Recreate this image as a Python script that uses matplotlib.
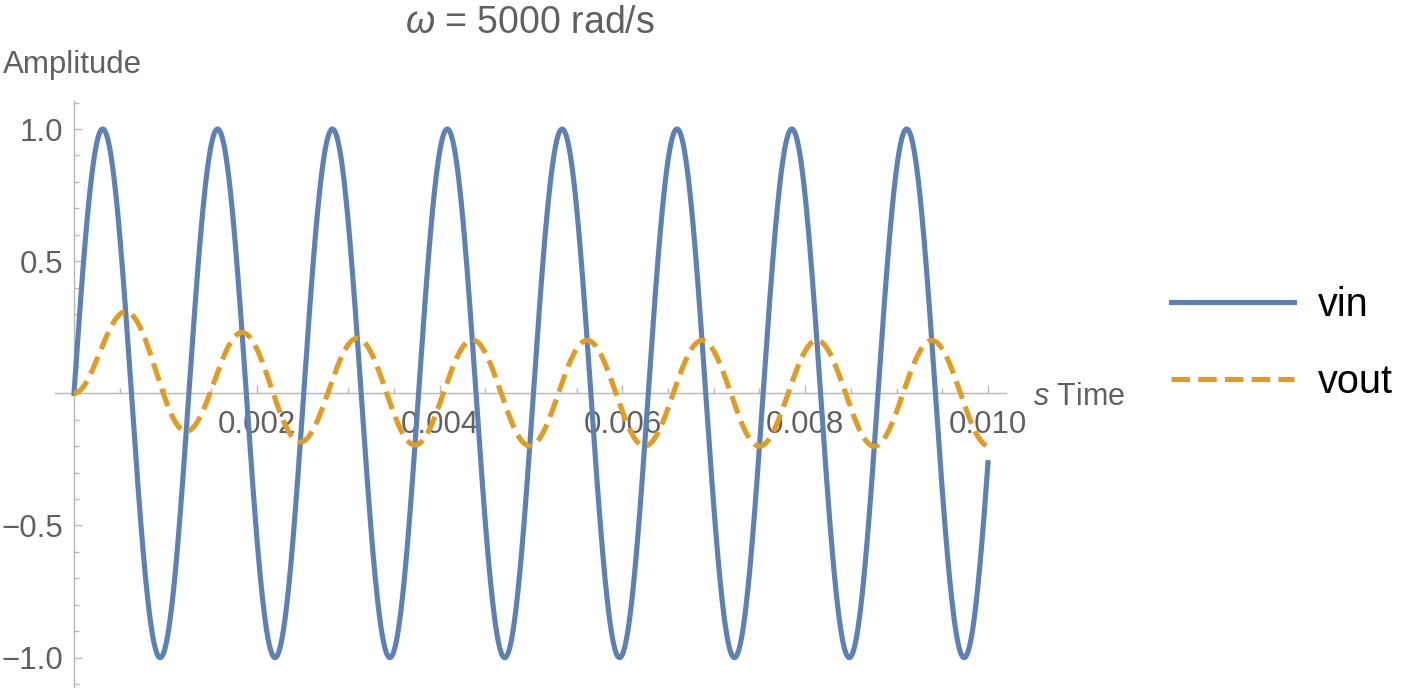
import numpy as np
import matplotlib
matplotlib.use("Agg")
import matplotlib.pyplot as plt
from matplotlib.ticker import FixedLocator

plt.rcParams['font.family'] = ['Liberation Sans', 'DejaVu Sans']
plt.rcParams['mathtext.fontset'] = 'custom'
plt.rcParams['mathtext.rm'] = 'Liberation Sans'
plt.rcParams['mathtext.it'] = 'Liberation Sans:italic'

omega = 5000.0                 # rad/s (title)
t_end = 0.010                  # s, last plotted time
vin_amplitude = 1.0
vout_gain = 0.2                # steady-state amplitude of vout
vout_phase = -1.369            # rad, steady-state lag of vout
vout_tau = 0.00098             # s, decay time of start-up transient
series_names = ["vin", "vout"]
x_tick_values = [0.002, 0.004, 0.006, 0.008, 0.010]
x_tick_labels = ["0.002", "0.004", "0.006", "0.008", "0.010"]
y_tick_values = [-1.0, -0.5, 0.5, 1.0]
y_tick_labels = ["\u22121.0", "\u22120.5", "0.5", "1.0"]

t = np.linspace(0.0, t_end, 3000)
vin = vin_amplitude * np.sin(omega * t)
vout = (vout_gain * np.sin(omega * t + vout_phase)
        - vout_gain * np.sin(vout_phase) * np.exp(-t / vout_tau))

# ---- figure ----
W, H = 1411, 694
fig = plt.figure(figsize=(W / 100, H / 100), dpi=100)
ax = fig.add_axes([55 / W, 1 - 687 / H, (1006 - 55) / W, (687 - 101) / H])
ax.set_xlim(-0.000208, 0.010197)
ax.set_ylim(-1.111, 1.106)
ax.patch.set_alpha(0)

blue = '#5E81B5'
orange = '#E19C24'
gray_axis = '#b8b8b8'
gray_text = '#606060'

l1, = ax.plot(t, vin, color=blue, lw=3.7, zorder=3, label=series_names[0])
l2, = ax.plot(t, vout, color=orange, lw=3.7, zorder=3, label=series_names[1],
              dashes=(3.6, 1.6), dash_capstyle='butt')

for s in ['top', 'right']:
    ax.spines[s].set_visible(False)
ax.spines['left'].set_position(('data', 0))
ax.spines['bottom'].set_position(('data', 0))
for s in ['left', 'bottom']:
    ax.spines[s].set_color(gray_axis)
    ax.spines[s].set_linewidth(1.0)
    ax.spines[s].set_zorder(1)

ax.xaxis.set_major_locator(FixedLocator(x_tick_values))
ax.set_xticklabels(x_tick_labels)
ax.xaxis.set_minor_locator(FixedLocator(np.arange(1, 21) * 0.0005))
ax.yaxis.set_major_locator(FixedLocator(y_tick_values))
ax.set_yticklabels(y_tick_labels)
ax.yaxis.set_minor_locator(FixedLocator([v / 10 for v in range(-11, 12) if v != 0]))

ax.tick_params(which='both', direction='in', color=gray_axis, width=1.0,
               labelcolor=gray_text, labelsize=22.5)
ax.tick_params(which='major', length=6)
ax.tick_params(which='minor', length=3.8)
ax.tick_params(axis='x', which='major', pad=12)
ax.tick_params(axis='y', which='major', pad=8)

# labels
fig.text(530 / W, 1 - 23 / H, r'$\mathit{\omega}$ = 5000 rad/s', ha='center', va='center',
         fontsize=27, color=gray_text)
fig.text(3 / W, 1 - 73 / H, 'Amplitude', ha='left', va='baseline',
         fontsize=22.5, color=gray_text)
fig.text(1033 / W, 1 - 405 / H, r'$\mathit{s}$ Time', ha='left', va='baseline',
         fontsize=22, color=gray_text)

leg = fig.legend(handles=[l1, l2], loc='center left',
                 bbox_to_anchor=(1171 / W, 1 - 343.5 / H),
                 frameon=False, fontsize=28.5, handlelength=3.1, handletextpad=0.6,
                 labelspacing=1.0, borderpad=0, borderaxespad=0)
for txt in leg.get_texts():
    txt.set_color('black')

fig.savefig('out.png', dpi=100)
